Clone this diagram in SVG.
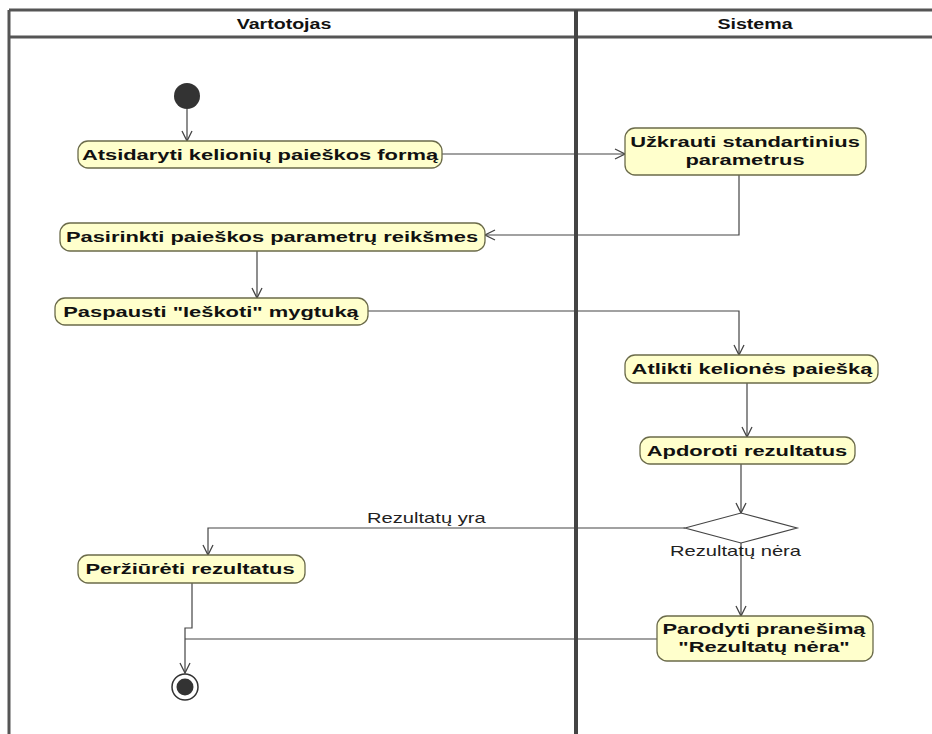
<svg xmlns="http://www.w3.org/2000/svg" width="932" height="734" viewBox="0 0 932 734">
  <style>
    .lane { stroke: #555; stroke-width: 3; fill: none; }
    .hdr { font-family: "Liberation Sans", Arial, sans-serif; font-weight: bold; font-size: 14px; fill: #111; text-anchor: middle; }
    .act rect { fill: #FFFFCC; stroke: #6b6b4a; stroke-width: 1.3; }
    .act text { font-family: "Liberation Sans", Arial, sans-serif; font-weight: bold; font-size: 15px; fill: #111; text-anchor: middle; }
    .edge { stroke: #444; stroke-width: 1.2; fill: none; }
    .guard { font-family: "Liberation Sans", Arial, sans-serif; font-size: 14px; fill: #222; }
  </style>
  <defs>
    <marker id="arr" viewBox="0 0 12 12" refX="11" refY="6" markerWidth="12" markerHeight="12" markerUnits="userSpaceOnUse" orient="auto">
      <path d="M1,1 L11,6 L1,11" fill="none" stroke="#444" stroke-width="1.3"/>
    </marker>
  </defs>
  <rect width="932" height="734" fill="#fff"/>

  <!-- swimlane frame -->
  <g id="lanes">
    <line class="lane" x1="9" y1="10" x2="932" y2="10"/>
    <line class="lane" x1="9" y1="37" x2="932" y2="37"/>
    <line class="lane" x1="9" y1="10" x2="9" y2="734"/>
    <line x1="576" y1="10" x2="576" y2="734" stroke="#444" stroke-width="4"/>
    <text class="hdr" transform="translate(284,29) scale(1.4,1)">Vartotojas</text>
    <text class="hdr" transform="translate(755,29) scale(1.4,1)">Sistema</text>
  </g>

  <!-- connectors -->
  <g id="connectors">
    <path class="edge" d="M187,109 L187,141" marker-end="url(#arr)"/>
    <path class="edge" d="M442,154 L625,154" marker-end="url(#arr)"/>
    <path class="edge" d="M739,175 L739,235 L485,235" marker-end="url(#arr)"/>
    <path class="edge" d="M257,251 L257,298" marker-end="url(#arr)"/>
    <path class="edge" d="M368,311 L739,311 L739,355" marker-end="url(#arr)"/>
    <path class="edge" d="M747,383 L747,437" marker-end="url(#arr)"/>
    <path class="edge" d="M741,464 L741,513" marker-end="url(#arr)"/>
    <path class="edge" d="M685,528 L208,528 L208,555" marker-end="url(#arr)"/>
    <path class="edge" d="M741,543 L741,616" marker-end="url(#arr)"/>
    <path class="edge" d="M192,583 L192,628 L185,628 L185,673" marker-end="url(#arr)"/>
    <path class="edge" d="M657,639 L185,639"/>
    <text class="guard" transform="translate(367,523) scale(1.44,1)">Rezultatų yra</text>
    <text class="guard" transform="translate(670,556) scale(1.44,1)">Rezultatų nėra</text>
  </g>

  <g id="start">
    <circle cx="187" cy="96" r="13" fill="#333"/>
  </g>

  <g id="a1" class="act">
    <rect x="78" y="141" width="364" height="27" rx="10"/>
    <text transform="translate(260,160) scale(1.46,1)">Atsidaryti kelionių paieškos formą</text>
  </g>
  <g id="a2" class="act">
    <rect x="625" y="128" width="241" height="47" rx="10"/>
    <text transform="translate(745,147) scale(1.46,1)">Užkrauti standartinius</text>
    <text transform="translate(745,165) scale(1.46,1)">parametrus</text>
  </g>
  <g id="a3" class="act">
    <rect x="60" y="223" width="425" height="28" rx="10"/>
    <text transform="translate(272,242) scale(1.46,1)">Pasirinkti paieškos parametrų reikšmes</text>
  </g>
  <g id="a4" class="act">
    <rect x="55" y="298" width="313" height="27" rx="10"/>
    <text transform="translate(211,317) scale(1.46,1)">Paspausti "Ieškoti" mygtuką</text>
  </g>
  <g id="a5" class="act">
    <rect x="625" y="355" width="253" height="28" rx="10"/>
    <text transform="translate(752,374) scale(1.46,1)">Atlikti kelionės paiešką</text>
  </g>
  <g id="a6" class="act">
    <rect x="640" y="437" width="215" height="27" rx="10"/>
    <text transform="translate(747,456) scale(1.46,1)">Apdoroti rezultatus</text>
  </g>
  <g id="decision">
    <polygon points="685,528 741,513 797,528 741,543" fill="#fff" stroke="#444" stroke-width="1.2"/>
  </g>
  <g id="a7" class="act">
    <rect x="78" y="555" width="227" height="28" rx="10"/>
    <text transform="translate(190,574) scale(1.46,1)">Peržiūrėti rezultatus</text>
  </g>
  <g id="a8" class="act">
    <rect x="657" y="616" width="216" height="45" rx="10"/>
    <text transform="translate(764,634) scale(1.46,1)">Parodyti pranešimą</text>
    <text transform="translate(764,652) scale(1.46,1)">"Rezultatų nėra"</text>
  </g>
  <g id="end">
    <circle cx="185" cy="687" r="13" fill="#fff" stroke="#333" stroke-width="1.5"/>
    <circle cx="185" cy="687" r="8.5" fill="#333"/>
  </g>
</svg>
